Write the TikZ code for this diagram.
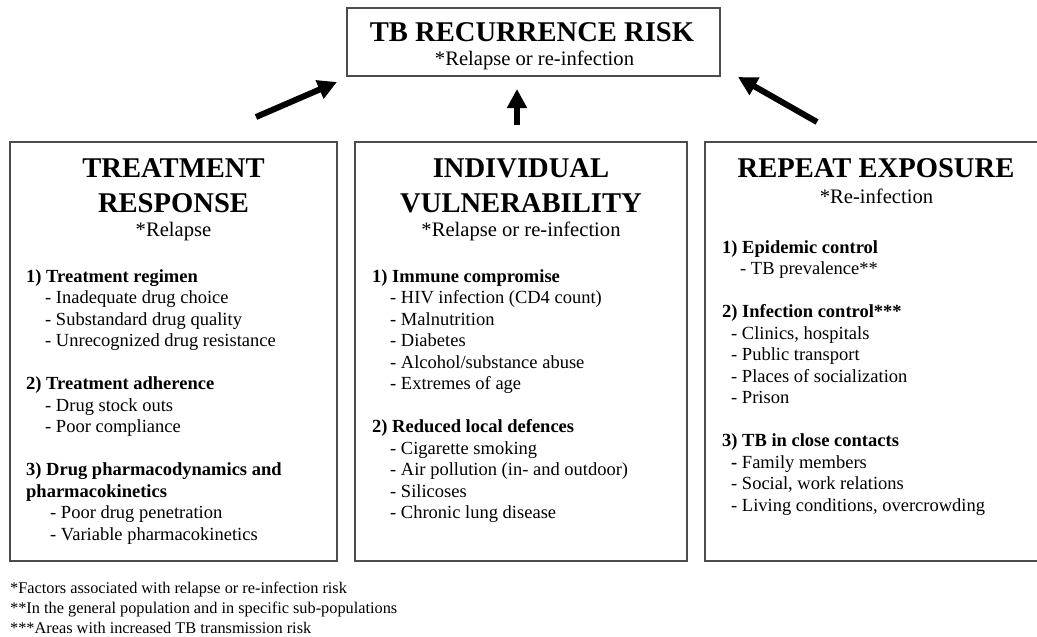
\documentclass[tikz,border=0pt]{standalone}
\usepackage{fontspec}
\setmainfont{Liberation Serif}
\usetikzlibrary{arrows.meta}

\tikzset{
  panel/.style={draw=black!70, line width=1.1pt, inner sep=0pt},
  bigarrow/.style={line width=6pt, -{Triangle[length=19pt,width=19pt]}},
  headline/.style={anchor=base, inner sep=0pt, font=\fontsize{28.6}{34}\selectfont\bfseries},
  subline/.style={anchor=base, inner sep=0pt, font=\fontsize{20.6}{24}\selectfont},
  topicline/.style={anchor=base west, inner sep=0pt, font=\fontsize{18.5}{21.5}\selectfont\bfseries},
  entry/.style={anchor=base west, inner sep=0pt, font=\fontsize{18.5}{21.5}\selectfont},
  notes/.style={anchor=base west, inner sep=0pt, font=\fontsize{16.3}{20}\selectfont}
}

\begin{document}
\begin{tikzpicture}[x=1pt, y=-1pt]
\useasboundingbox (0,0) rectangle (1037,637);

\node[panel, minimum width=373pt, minimum height=68pt] (risk) at (533.5,42) {};
\node[panel, minimum width=327pt, minimum height=419pt] (resp) at (173.5,351.5) {};
\node[panel, minimum width=332pt, minimum height=419pt] (vuln) at (521,351.5) {};
\node[panel, minimum width=335pt, minimum height=419pt] (expo) at (872.5,351.5) {};

\node[headline] (risktitle) at (532,41) {TB RECURRENCE RISK};
\node[subline] (risksub) at (534.5,65) {*Relapse or re-infection};

\coordinate (lefttail) at (256,117);
\coordinate (lefthead) at (337,82);
\coordinate (midtail) at (517,125);
\coordinate (midhead) at (517,89);
\coordinate (righttail) at (817,122);
\coordinate (righthead) at (738,77);
\draw[bigarrow] (lefttail) -- (lefthead);
\draw[bigarrow] (midtail) -- (midhead);
\draw[bigarrow] (righttail) -- (righthead);

\node[headline] (resptitle) at (173.5,177) {TREATMENT};
\node[headline] (resptitleb) at (173.5,212) {RESPONSE};
\node[subline] (respsub) at (173.5,236) {*Relapse};
\node[topicline] (rt1) at (26,282) {1) Treatment regimen};
\foreach \txt [count=\i] in {Inadequate drug choice, Substandard drug quality, Unrecognized drug resistance}
    \node[entry] (ra\i) at (45,{282+21.5*\i}) {- \txt};
\node[topicline] (rt2) at (26,389.5) {2) Treatment adherence};
\foreach \txt [count=\i] in {Drug stock outs, Poor compliance}
    \node[entry] (rb\i) at (45,{389.5+21.5*\i}) {- \txt};
\node[topicline] (rt3) at (26,475.5) {3) Drug pharmacodynamics and};
\node[topicline] (rt3b) at (26,497) {pharmacokinetics};
\foreach \txt [count=\i] in {Poor drug penetration, Variable pharmacokinetics}
    \node[entry] (rc\i) at (50,{497+21.5*\i}) {- \txt};

\node[headline] (vulntitle) at (521,177) {INDIVIDUAL};
\node[headline] (vulntitleb) at (521,212) {VULNERABILITY};
\node[subline] (vulnsub) at (521,236) {*Relapse or re-infection};
\node[topicline] (vt1) at (372,282) {1) Immune compromise};
\foreach \txt [count=\i] in {HIV infection (CD4 count), Malnutrition, Diabetes, Alcohol/substance abuse, Extremes of age}
    \node[entry] (va\i) at (390,{282+21.5*\i}) {- \txt};
\node[topicline] (vt2) at (372,432.5) {2) Reduced local defences};
\foreach \txt [count=\i] in {Cigarette smoking, Air pollution (in- and outdoor), Silicoses, Chronic lung disease}
    \node[entry] (vb\i) at (390,{432.5+21.5*\i}) {- \txt};

\node[headline] (expotitle) at (876,177) {REPEAT EXPOSURE};
\node[subline] (exposub) at (876.5,203) {*Re-infection};
\node[topicline] (et1) at (722,253) {1) Epidemic control};
\node[entry] (ea1) at (740,274.5) {- TB prevalence**};
\node[topicline] (et2) at (722,317.5) {2) Infection control***};
\foreach \txt [count=\i] in {{Clinics, hospitals}, Public transport, Places of socialization, Prison}
    \node[entry] (eb\i) at (731,{317.5+21.5*\i}) {- \txt};
\node[topicline] (et3) at (722,446.5) {3) TB in close contacts};
\node[entry] (ec1) at (731,468) {\textbf{-} Family members};
\node[entry] (ec2) at (731,489.5) {- Social, work relations};
\node[entry] (ec3) at (731,511) {- Living conditions, overcrowding};

\node[notes] (note1) at (10,593) {*Factors associated with relapse or re-infection risk};
\node[notes] (note2) at (10,613) {**In the general population and in specific sub-populations};
\node[notes] (note3) at (10,633) {***Areas with increased TB transmission risk};
\end{tikzpicture}
\end{document}
